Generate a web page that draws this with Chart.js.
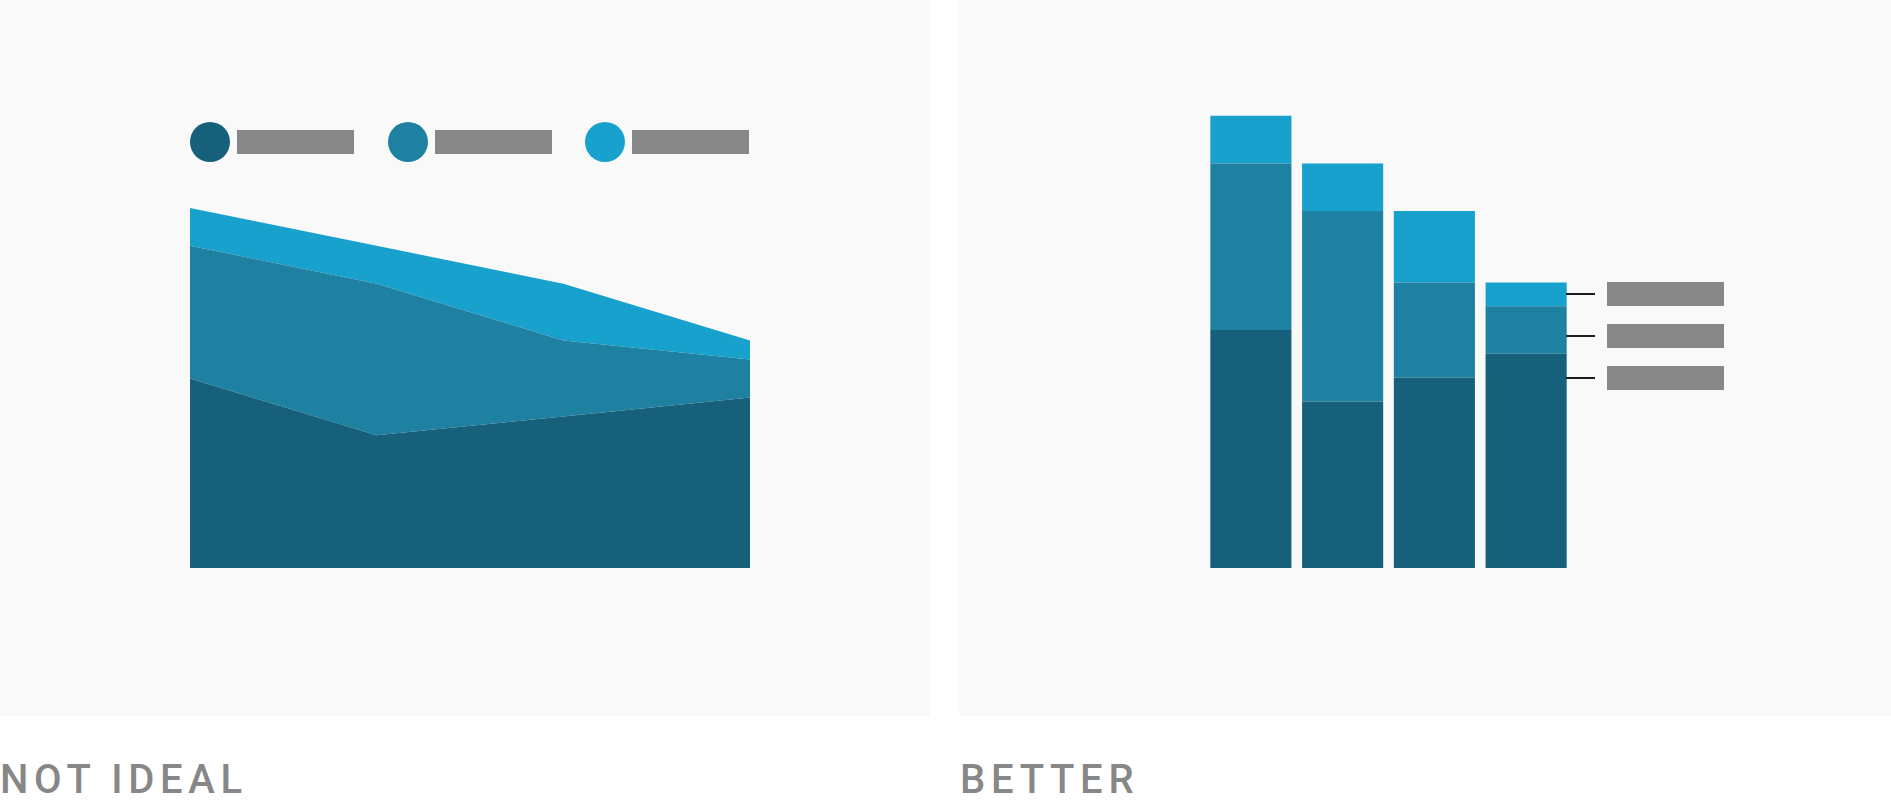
<!DOCTYPE html>
<html>
<head>
<meta charset="utf-8">
<script src="https://cdn.jsdelivr.net/npm/chart.js@4"></script>
<style>
  html, body { margin:0; padding:0; background:#ffffff; width:1891px; height:804px; overflow:hidden; }
  .panel { position:absolute; background:#f9f9f9; }
  .title { position:absolute; font-family:Roboto, "Open Sans", sans-serif; font-weight:500; font-size:40px; color:#878787; letter-spacing:5.7px; line-height:1; white-space:nowrap; }
  .dot { position:absolute; width:40px; height:40px; border-radius:50%; }
  .bar { position:absolute; background:#878787; height:24px; width:117px; }
  .tick { position:absolute; background:#1e1e1e; height:2px; width:29px; }
  canvas { position:absolute; }
</style>
</head>
<body>
<div class="panel" style="left:0;top:0;width:930px;height:716px;"></div>
<div class="panel" style="left:959px;top:0;width:932px;height:716px;"></div>

<canvas id="area" width="560" height="379" style="left:190px;top:189px;"></canvas>
<canvas id="bars" width="367" height="476" style="left:1205px;top:92px;"></canvas>

<div id="legend"></div>
<div id="labels"></div>

<div class="title" style="left:0px;top:760px;">NOT IDEAL</div>
<div class="title" style="left:960px;top:760px;">BETTER</div>

<script>
// ---- data ----
const categories = ["A", "B", "C", "D"];
const seriesBottom = [10, 7, 8, 9];
const seriesMiddle = [7, 8, 4, 2];
const seriesTop = [2, 2, 3, 1];
const seriesNames = ["Series 1", "Series 2", "Series 3"];
const colors = ["#16607b", "#1e81a2", "#19a1cd"];
const yMax = 20;

// ---- left: stacked area ----
new Chart(document.getElementById("area"), {
  type: "line",
  data: {
    labels: categories,
    datasets: [
      { label: seriesNames[0], data: seriesBottom, backgroundColor: colors[0], borderWidth: 0, fill: "origin", pointRadius: 0 },
      { label: seriesNames[1], data: seriesMiddle, backgroundColor: colors[1], borderWidth: 0, fill: "-1", pointRadius: 0 },
      { label: seriesNames[2], data: seriesTop, backgroundColor: colors[2], borderWidth: 0, fill: "-1", pointRadius: 0 }
    ]
  },
  options: {
    responsive: false, animation: false, devicePixelRatio: 1,
    layout: { padding: 0 },
    elements: { line: { tension: 0 } },
    plugins: { legend: { display: false }, tooltip: { enabled: false } },
    scales: {
      x: { display: false, offset: false },
      y: { display: false, stacked: true, min: 0, max: yMax }
    }
  }
});

// ---- right: stacked bars ----
new Chart(document.getElementById("bars"), {
  type: "bar",
  data: {
    labels: categories,
    datasets: [
      { label: seriesNames[0], data: seriesBottom, backgroundColor: colors[0] },
      { label: seriesNames[1], data: seriesMiddle, backgroundColor: colors[1] },
      { label: seriesNames[2], data: seriesTop, backgroundColor: colors[2] }
    ]
  },
  options: {
    responsive: false, animation: false, devicePixelRatio: 1,
    layout: { padding: 0 },
    datasets: { bar: { barPercentage: 0.884, categoryPercentage: 1.0, borderWidth: 0 } },
    plugins: { legend: { display: false }, tooltip: { enabled: false } },
    scales: {
      x: { display: false, stacked: true, offset: true },
      y: { display: false, stacked: true, min: 0, max: yMax }
    }
  }
});

// ---- legend (left) with placeholder label bars ----
const legend = document.getElementById("legend");
colors.forEach((c, i) => {
  const x0 = 190 + i * 197.5;
  const d = document.createElement("div");
  d.className = "dot";
  d.style.left = x0 + "px"; d.style.top = "122px"; d.style.background = c;
  d.title = seriesNames[i];
  legend.appendChild(d);
  const b = document.createElement("div");
  b.className = "bar";
  b.style.left = (x0 + 47) + "px"; b.style.top = "130px";
  legend.appendChild(b);
});

// ---- direct labels (right) ----
const labels = document.getElementById("labels");
[0, 1, 2].forEach(i => {
  const y = 294 + i * 42;
  const t = document.createElement("div");
  t.className = "tick";
  t.style.left = "1566px"; t.style.top = (y - 1) + "px";
  labels.appendChild(t);
  const b = document.createElement("div");
  b.className = "bar";
  b.style.left = "1607px"; b.style.top = (y - 12) + "px";
  labels.appendChild(b);
});
</script>
</body>
</html>
